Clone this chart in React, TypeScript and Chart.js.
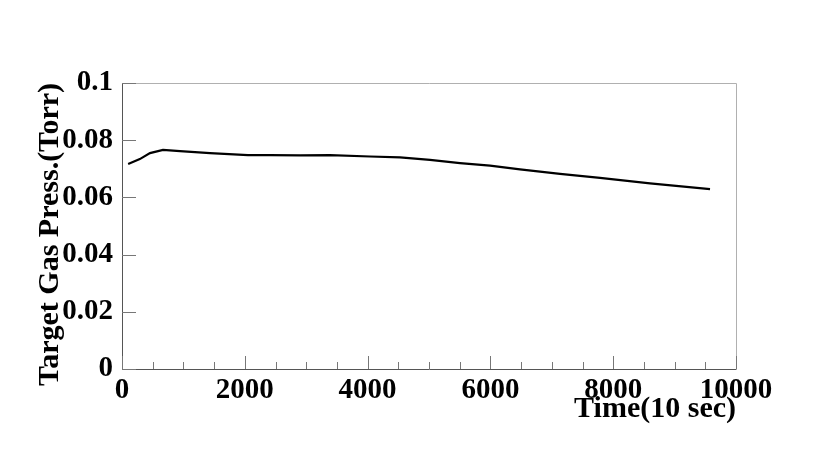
import React, { useEffect, useRef } from "react";
import { Chart, registerables } from "chart.js";

Chart.register(...registerables);

const timeValues = [100, 290, 456, 668, 945, 1433, 2052, 2410, 2900, 3388, 4039, 4528, 5016, 5505, 5994, 6482, 7134, 7785, 8600, 9577];
const pressureValues = [0.0717, 0.0734, 0.0755, 0.0766, 0.0762, 0.0755, 0.0748, 0.0748, 0.0747, 0.0748, 0.0743, 0.074, 0.0731, 0.072, 0.0711, 0.0698, 0.0682, 0.0668, 0.0649, 0.0629];
const xTicks = [0, 2000, 4000, 6000, 8000, 10000];
const yTicks = [0, 0.02, 0.04, 0.06, 0.08, 0.1];
const yTickLabels = ["0", "0.02", "0.04", "0.06", "0.08", "0.1"];
const xTitle = "Time(10 sec)";
const yTitle = "Target Gas Press.(Torr)";

const FONT = "'Liberation Serif', 'DejaVu Serif', serif";

const frameTicks = {
  id: "frameTicks",
  afterDraw(chart: any) {
    const { ctx, chartArea } = chart;
    const { left, right, top, bottom } = chartArea;
    const xs = chart.scales.x;
    const ys = chart.scales.y;
    ctx.save();
    ctx.lineWidth = 1;
    // top & right (light)
    ctx.strokeStyle = "#b0b0b0";
    ctx.beginPath();
    ctx.moveTo(left, top + 0.5);
    ctx.lineTo(right + 0.5, top + 0.5);
    ctx.lineTo(right + 0.5, bottom);
    ctx.stroke();
    // left & bottom (dark)
    ctx.strokeStyle = "#555555";
    ctx.beginPath();
    ctx.moveTo(left + 0.5, top);
    ctx.lineTo(left + 0.5, bottom + 0.5);
    ctx.lineTo(right + 0.5, bottom + 0.5);
    ctx.stroke();
    // x ticks (major every 2000, minor every 500)
    ctx.strokeStyle = "#777777";
    ctx.beginPath();
    for (let v = 0; v <= 10000; v += 500) {
      const px = Math.round(xs.getPixelForValue(v)) + 0.5;
      const len = v % 2000 === 0 ? 13 : 7;
      ctx.moveTo(px, bottom);
      ctx.lineTo(px, bottom - len);
    }
    // y ticks
    for (const v of yTicks) {
      const py = Math.round(ys.getPixelForValue(v)) + 0.5;
      ctx.moveTo(left, py);
      ctx.lineTo(left + 14, py);
    }
    ctx.stroke();
    ctx.restore();
  },
};

export default function App() {
  const ref = useRef<HTMLCanvasElement | null>(null);
  useEffect(() => {
    if (!ref.current) return;
    const chart = new Chart(ref.current, {
      type: "line",
      data: {
        datasets: [
          {
            data: timeValues.map((t, i) => ({ x: t, y: pressureValues[i] })),
            borderColor: "#000000",
            borderWidth: 2.2,
            pointRadius: 0,
            tension: 0,
            fill: false,
          },
        ],
      },
      options: {
        animation: false,
        responsive: false,
        maintainAspectRatio: false,
        layout: { padding: { left: 0, right: 81, top: 83, bottom: 0 } },
        plugins: { legend: { display: false }, tooltip: { enabled: false } },
        scales: {
          x: {
            type: "linear",
            min: 0,
            max: 10000,
            afterBuildTicks: (s: any) => {
              s.ticks = xTicks.map((v) => ({ value: v }));
            },
            afterFit: (s: any) => {
              s.height = 82;
            },
            grid: { display: false, drawTicks: false },
            border: { display: false },
            ticks: {
              color: "#000",
              padding: 4,
              maxRotation: 0,
              autoSkip: false,
              font: { family: FONT, size: 29, weight: "bold" },
              callback: (v: any) => String(v),
            },
            title: {
              display: true,
              text: xTitle,
              align: "end",
              color: "#000",
              padding: { top: 0, bottom: 24 },
              font: { family: FONT, size: 30, weight: "bold" },
            },
          },
          y: {
            type: "linear",
            min: 0,
            max: 0.1,
            afterBuildTicks: (s: any) => {
              s.ticks = yTicks.map((v) => ({ value: v }));
            },
            afterFit: (s: any) => {
              s.width = 122;
            },
            grid: { display: false, drawTicks: false },
            border: { display: false },
            ticks: {
              color: "#000",
              padding: 9,
              autoSkip: false,
              font: { family: FONT, size: 29, weight: "bold" },
              callback: (v: any) => {
                const i = yTicks.findIndex((t) => Math.abs(t - v) < 1e-9);
                return i >= 0 ? yTickLabels[i] : "";
              },
            },
            title: {
              display: true,
              text: yTitle,
              align: "end",
              color: "#000",
              padding: { top: 32, bottom: 0 },
              font: { family: FONT, size: 30, weight: "bold" },
            },
          },
        },
      },
      plugins: [frameTicks],
    });
    return () => chart.destroy();
  }, []);
  return (
    <div style={{ position: "fixed", left: 0, top: 0, width: 817, height: 451, background: "#fff" }}>
      <canvas ref={ref} width={817} height={451} style={{ display: "block", width: 817, height: 451 }} />
    </div>
  );
}
